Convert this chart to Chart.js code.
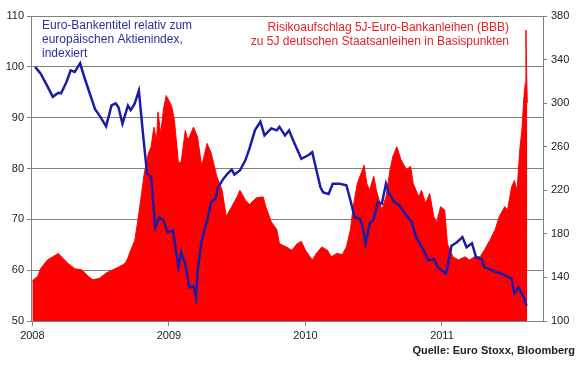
<!DOCTYPE html>
<html>
<head>
<meta charset="utf-8">
<script src="https://cdn.jsdelivr.net/npm/chart.js@4.4.1/dist/chart.umd.min.js"></script>
<style>
  html, body { margin: 0; padding: 0; background: #fff; }
  #wrap { width: 578px; height: 365px; }
</style>
</head>
<body>
<div id="wrap"><canvas id="chart" width="578" height="365"></canvas></div>
<script>
// Achse: Jahre
const yearTicks = [2008, 2009, 2010, 2011];

// Euro-Bankentitel relativ zum Aktienindex (linke Achse)
const bankDates = [2008.02, 2008.06, 2008.10, 2008.15, 2008.19, 2008.21, 2008.25, 2008.28, 2008.31, 2008.35,
  2008.38, 2008.42, 2008.46, 2008.49, 2008.54, 2008.58, 2008.61, 2008.63, 2008.66, 2008.70,
  2008.72, 2008.75, 2008.78, 2008.81, 2008.84, 2008.87, 2008.90, 2008.93, 2008.96, 2008.99,
  2009.03, 2009.07, 2009.09, 2009.12, 2009.15, 2009.18, 2009.20, 2009.21, 2009.24, 2009.28,
  2009.31, 2009.34, 2009.36, 2009.40, 2009.43, 2009.46, 2009.48, 2009.52, 2009.56, 2009.59,
  2009.63, 2009.67, 2009.70, 2009.75, 2009.79, 2009.81, 2009.85, 2009.88, 2009.92, 2009.97,
  2010.02, 2010.05, 2010.07, 2010.11, 2010.13, 2010.17, 2010.20, 2010.25, 2010.30, 2010.33,
  2010.36, 2010.40, 2010.42, 2010.44, 2010.47, 2010.50, 2010.53, 2010.56, 2010.59, 2010.61,
  2010.65, 2010.69, 2010.73, 2010.78, 2010.81, 2010.86, 2010.90, 2010.94, 2010.97, 2011.03,
  2011.07, 2011.11, 2011.15, 2011.18, 2011.22, 2011.25, 2011.29, 2011.31, 2011.35, 2011.40,
  2011.44, 2011.47, 2011.51, 2011.53, 2011.56, 2011.60, 2011.62];
const bankValues = [100, 98.7, 96.7, 94.1, 94.9, 94.8, 97.0, 99.3, 99.0, 100.7,
  98.0, 94.8, 91.6, 90.5, 88.3, 92.4, 92.8, 92.1, 88.8, 92.4,
  91.5, 92.8, 95.3, 86.9, 79.0, 78.3, 68.4, 70.4, 69.8, 67.5,
  67.8, 60.6, 63.5, 61.2, 56.6, 56.9, 54.6, 59.9, 65.8, 69.8,
  73.4, 74.0, 76.3, 78.0, 79.0, 79.8, 78.8, 79.6, 81.6, 83.9,
  87.5, 89.2, 86.5, 87.9, 87.5, 88.2, 86.5, 87.5, 84.9, 81.9,
  82.6, 83.2, 80.9, 76.3, 75.3, 75.0, 77.0, 77.0, 76.7, 73.7,
  70.4, 70.1, 68.4, 65.2, 69.1, 70.1, 73.4, 73.1, 77.0, 75.3,
  73.4, 72.7, 71.1, 69.4, 66.5, 64.2, 61.9, 62.2, 60.6, 59.3,
  64.8, 65.5, 66.5, 64.5, 65.3, 62.5, 62.2, 60.6, 60.2, 59.6,
  59.3, 58.9, 58.3, 55.4, 56.6, 54.6, 53.0];

// Risikoaufschlag in Basispunkten (rechte Achse)
const spreadDates = [2008.00, 2008.04, 2008.06, 2008.11, 2008.15, 2008.19, 2008.22, 2008.26, 2008.31, 2008.36,
  2008.41, 2008.44, 2008.49, 2008.54, 2008.59, 2008.64, 2008.68, 2008.70, 2008.72, 2008.75,
  2008.77, 2008.80, 2008.82, 2008.85, 2008.87, 2008.89, 2008.91, 2008.92, 2008.94, 2008.96,
  2008.98, 2009.01, 2009.02, 2009.04, 2009.07, 2009.09, 2009.12, 2009.14, 2009.18, 2009.21,
  2009.24, 2009.28, 2009.31, 2009.35, 2009.39, 2009.42, 2009.46, 2009.50, 2009.52, 2009.56,
  2009.59, 2009.64, 2009.69, 2009.71, 2009.75, 2009.79, 2009.81, 2009.86, 2009.90, 2009.94,
  2009.97, 2010.00, 2010.05, 2010.08, 2010.12, 2010.16, 2010.19, 2010.23, 2010.27, 2010.30,
  2010.33, 2010.35, 2010.38, 2010.40, 2010.43, 2010.45, 2010.47, 2010.50, 2010.52, 2010.56,
  2010.59, 2010.62, 2010.64, 2010.67, 2010.70, 2010.74, 2010.77, 2010.79, 2010.83, 2010.85,
  2010.88, 2010.91, 2010.94, 2010.96, 2010.99, 2011.02, 2011.04, 2011.08, 2011.12, 2011.17,
  2011.20, 2011.24, 2011.28, 2011.31, 2011.35, 2011.39, 2011.42, 2011.46, 2011.48, 2011.51,
  2011.53, 2011.55, 2011.57, 2011.585, 2011.60, 2011.61, 2011.615, 2011.62, 2011.625];
const spreadValues = [137, 141, 148, 156, 159, 162, 158, 153, 148, 147,
  141, 138, 139, 144, 147, 150, 153, 158, 165, 174,
  190, 217, 236, 254, 260, 278, 266, 292, 272, 294,
  307, 300, 297, 285, 245, 246, 275, 266, 278, 269,
  242, 263, 254, 233, 220, 196, 205, 214, 220, 211,
  207, 213, 214, 205, 191, 184, 171, 168, 165, 171,
  173, 165, 156, 162, 168, 165, 159, 162, 161, 168,
  184, 205, 226, 233, 243, 226, 220, 233, 220, 202,
  214, 239, 251, 260, 248, 239, 242, 226, 214, 220,
  208, 217, 196, 190, 205, 202, 171, 159, 156, 159,
  156, 159, 159, 165, 174, 184, 196, 205, 202, 223,
  229, 220, 257, 275, 305, 318, 367, 330, 300];

const blueLine = '#1c1ca8';
const redFill = '#ff0000';
const gridGray = '#808080';
const tickFont = { family: 'Liberation Sans, Arial, sans-serif', size: 11 };

// Texte im Diagramm
const notes = {
  id: 'notes',
  afterDraw(chart) {
    const c = chart.ctx;
    c.save();
    c.font = '12px "Liberation Sans", Arial, sans-serif';
    c.textBaseline = 'alphabetic';
    c.fillStyle = '#2a2f9c';
    c.textAlign = 'left';
    c.fillText('Euro-Bankentitel relativ zum', 42, 29);
    c.fillText('europäischen Aktienindex,', 42, 43);
    c.fillText('indexiert', 42, 57);
    c.fillStyle = '#e32222';
    c.textAlign = 'right';
    c.fillText('Risikoaufschlag 5J-Euro-Bankanleihen (BBB)', 509, 31);
    c.fillText('zu 5J deutschen Staatsanleihen in Basispunkten', 509, 45);
    c.fillStyle = '#222';
    c.font = 'bold 11px "Liberation Sans", Arial, sans-serif';
    c.fillText('Quelle: Euro Stoxx, Bloomberg', 575, 354);
    c.restore();
  }
};

new Chart(document.getElementById('chart'), {
  type: 'line',
  data: {
    datasets: [{
      label: 'Euro-Bankentitel relativ zum europäischen Aktienindex',
      data: bankDates.map((d, i) => ({ x: d, y: bankValues[i] })),
      yAxisID: 'y',
      borderColor: blueLine,
      borderWidth: 2.5,
      pointRadius: 0,
      tension: 0,
      fill: false,
    }, {
      label: 'Risikoaufschlag 5J-Euro-Bankanleihen (BBB)',
      data: spreadDates.map((d, i) => ({ x: d, y: spreadValues[i] })),
      yAxisID: 'y1',
      borderColor: redFill,
      backgroundColor: redFill,
      borderWidth: 1,
      pointRadius: 0,
      tension: 0,
      fill: 'start',
    }],
  },
  options: {
    responsive: false,
    animation: false,
    layout: { padding: { top: 16, left: 0, right: 0, bottom: 0 } },
    plugins: { legend: { display: false }, tooltip: { enabled: false } },
    scales: {
      x: {
        type: 'linear',
        min: 2007.99,
        max: 2011.74,
        afterBuildTicks: s => { s.ticks = yearTicks.map(v => ({ value: v })); },
        afterFit: s => { s.height = 44; },
        grid: { drawOnChartArea: false, tickLength: 5, color: gridGray },
        border: { color: gridGray },
        ticks: { font: tickFont, color: '#222', padding: 3, maxRotation: 0, callback: v => String(v) },
      },
      y: {
        position: 'left',
        min: 50,
        max: 110,
        afterFit: s => { s.width = 31; },
        grid: { color: gridGray, tickLength: 4 },
        border: { color: gridGray },
        ticks: { stepSize: 10, font: tickFont, color: '#222', padding: 3 },
      },
      y1: {
        position: 'right',
        min: 100,
        max: 380,
        afterFit: s => { s.width = 35; },
        grid: { drawOnChartArea: false, tickLength: 4, color: gridGray },
        border: { color: gridGray },
        ticks: { stepSize: 40, font: tickFont, color: '#222', padding: 4 },
      },
    },
  },
  plugins: [notes],
});
</script>
</body>
</html>
